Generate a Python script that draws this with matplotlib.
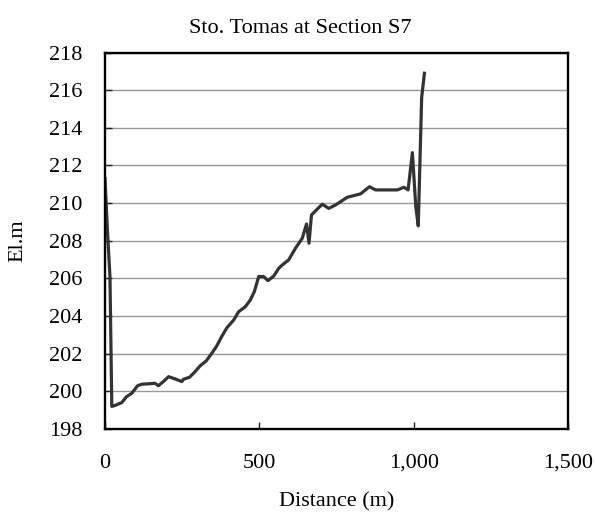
import matplotlib
matplotlib.use('Agg')
import matplotlib.pyplot as plt
from matplotlib.ticker import FuncFormatter

# Sto. Tomas cross section S7 - distance (m) vs elevation (m)
distance = [0, 8, 16, 22, 32, 54, 70, 87, 105, 119, 141, 162, 173, 189, 206,
            227, 249, 254, 274, 292, 308, 328, 346, 362, 379, 395, 417, 433,
            455, 471, 484, 498, 514, 528, 547, 563, 577, 595, 617, 639, 653,
            661, 669, 687, 704, 725, 747, 785, 828, 841, 857, 877, 947, 969,
            982, 996, 1007, 1015, 1026, 1035]
elevation = [211.3, 208.5, 206.1, 199.2, 199.25, 199.4, 199.72, 199.9, 200.29,
             200.38, 200.4, 200.43, 200.3, 200.52, 200.78, 200.66, 200.52,
             200.64, 200.75, 201.05, 201.35, 201.62, 202.02, 202.41, 202.94,
             203.38, 203.79, 204.23, 204.5, 204.86, 205.3, 206.1, 206.1,
             205.88, 206.13, 206.54, 206.75, 206.98, 207.6, 208.13, 208.89,
             207.87, 209.37, 209.67, 209.94, 209.72, 209.9, 210.31, 210.49,
             210.66, 210.87, 210.7, 210.7, 210.84, 210.7, 212.68, 209.81,
             208.79, 215.6, 216.9]

x_ticks = [0, 500, 1000, 1500]
y_ticks = list(range(198, 219, 2))

plt.rcParams['font.family'] = ['Liberation Serif', 'DejaVu Serif']

fig = plt.figure(figsize=(5.95, 5.24), dpi=100)
ax = fig.add_axes([0.1765, 0.1813, 0.778, 0.7185])

ax.plot(distance, elevation, color='#333333', linewidth=2.3)

ax.set_xlim(0, 1500)
ax.set_ylim(198, 218)
ax.set_xticks(x_ticks)
ax.set_yticks(y_ticks)
ax.xaxis.set_major_formatter(FuncFormatter(lambda v, p: '{:,.0f}'.format(v)))
ax.grid(axis='y', color='#999999', linewidth=1.0)
ax.set_axisbelow(True)

for s in ax.spines.values():
    s.set_linewidth(1.7)
    s.set_color('black')

ax.tick_params(axis='both', direction='in', labelsize=16, width=1.0, length=5,
               color='#222222')
ax.tick_params(axis='y', pad=16)
ax.tick_params(axis='x', pad=18)

ax.set_xlabel('Distance (m)', fontsize=16, labelpad=14)
ax.set_ylabel('El.m', fontsize=16, labelpad=16)
fig.text(0.505, 0.945, 'Sto. Tomas at Section S7', ha='center', va='center',
         fontsize=16)

fig.savefig('out.png', dpi=100)
